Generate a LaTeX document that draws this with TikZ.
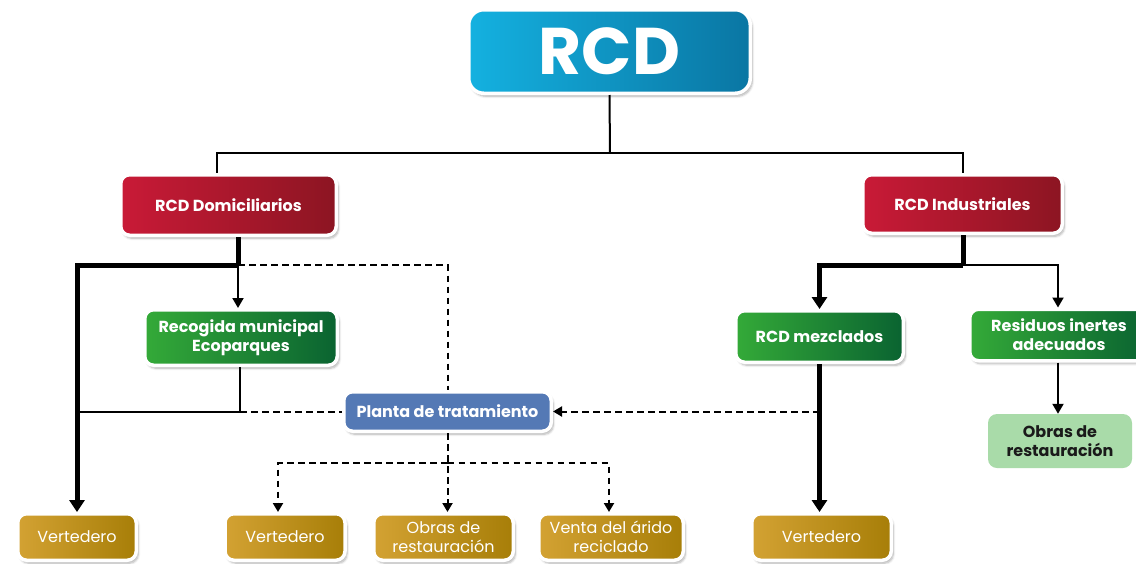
\documentclass[tikz,border=0pt]{standalone}
\usepackage{fontspec}
\setmainfont{Poppins}
\usetikzlibrary{arrows.meta,shadows.blur}
\definecolor{bluel}{HTML}{14B1E0}
\definecolor{bluer}{HTML}{0A76A3}
\definecolor{redl}{HTML}{C91A37}
\definecolor{redr}{HTML}{8C1522}
\definecolor{greenl}{HTML}{34AA38}
\definecolor{greenr}{HTML}{0A6331}
\definecolor{goldl}{HTML}{D3A233}
\definecolor{goldr}{HTML}{A77E08}
\definecolor{plantac}{HTML}{5479B5}
\definecolor{lgreen}{HTML}{A9DBA9}
\definecolor{darktext}{HTML}{1A1A1A}
\tikzset{
  boxbase/.style={rounded corners=9pt, draw=white, line width=3.5pt, text=white, align=center, inner sep=0pt,
    blur shadow={shadow blur steps=6, shadow xshift=2pt, shadow yshift=-3pt, shadow opacity=30}},
  topbox/.style={boxbase, rounded corners=15pt, left color=bluel, right color=bluer, font=\fontsize{66}{66}\selectfont\bfseries},
  redbox/.style={boxbase, left color=redl, right color=redr, font=\fontsize{16}{19}\selectfont\bfseries},
  greenbox/.style={boxbase, left color=greenl, right color=greenr, font=\fontsize{16}{19}\selectfont\bfseries},
  goldbox/.style={boxbase, left color=goldl, right color=goldr, font=\fontsize{16}{19}\selectfont,
    minimum width=120pt, minimum height=46.5pt},
  plantabox/.style={boxbase, fill=plantac, font=\fontsize{16}{19}\selectfont\bfseries},
  lgbox/.style={rounded corners=9pt, fill=lgreen, text=darktext, align=center, inner sep=0pt,
    font=\fontsize{16}{19}\selectfont\bfseries},
  thinline/.style={line width=2pt, line join=miter},
  thickline/.style={line width=5pt, line join=miter},
  dashline/.style={line width=2pt, dash pattern=on 6.5pt off 4.5pt},
  thinarrow/.style={thinline, -{Triangle[width=11pt,length=10pt]}},
  thickarrow/.style={thickline, -{Triangle[width=15pt,length=12pt]}},
  dasharrow/.style={dashline, -{Triangle[width=10pt,length=9pt]}},
}
\begin{document}
\begin{tikzpicture}[x=1pt,y=-1pt]
\useasboundingbox (0,0) rectangle (1136,563);
% nodes
\node[topbox, minimum width=281.5pt, minimum height=83.5pt] (rcd) at (609.5,51.5) {RCD};
\node[redbox, minimum width=215.5pt, minimum height=60.5pt] (dom) at (228.5,205) {RCD Domiciliarios};
\node[redbox, minimum width=199.5pt, minimum height=58.5pt] (ind) at (962.5,204) {RCD Industriales};
\node[greenbox, minimum width=192.5pt, minimum height=55.5pt] (rec) at (241,337.5) {Recogida municipal\\Ecoparques};
\node[greenbox, minimum width=167.5pt, minimum height=51.5pt] (mez) at (819.5,336.5) {RCD mezclados};
\node[greenbox, minimum width=178.5pt, minimum height=51.5pt] (res) at (1059,335) {Residuos inertes\\adecuados};
\node[lgbox, minimum width=144pt, minimum height=54pt] (obr) at (1060,441) {Obras de\\restauración};
\node[plantabox, minimum width=207.5pt, minimum height=39.5pt] (pla) at (447.5,411.5) {Planta de tratamiento};
\node[goldbox, minimum width=118.5pt] (v1) at (77,537) {Vertedero};
\node[goldbox] (v2) at (285,537) {Vertedero};
\node[goldbox, minimum width=139.5pt] (ob1) at (443.5,537) {Obras de\\restauración};
\node[goldbox, minimum width=144.5pt] (ven) at (611,537) {Venta del árido\\reciclado};
\node[goldbox, minimum width=139.5pt] (vr) at (821.5,537) {Vertedero};
% junctions
\coordinate (jt) at (610,153);
\coordinate (jd) at (238,265);
\coordinate (jr) at (240,411.5);
\coordinate (ji) at (963,265);
\coordinate (jp) at (447.5,463);
% top tree
\draw[thinline] (rcd.south) -- (jt);
\draw[thinline] (jt) -| ([xshift=-11.5pt]dom.north);
\draw[thinline] (jt) -| (ind.north);
% domiciliarios
\draw[thickline] (dom.south -| jd) -- (jd);
\draw[thickarrow] (jd) -| (v1.north);
\draw[thinarrow] (jd) -- (rec.north -| jd);
\draw[dashline] (jd) -| (pla.north);
\draw[thinline] (rec.south -| jr) -- (jr) -- (jr -| v1.north);
\draw[dashline] (jr) -- (pla.west);
% industriales
\draw[thickline] (ind.south -| ji) -- (ji);
\draw[thickarrow] (ji) -| (mez.north);
\draw[thinarrow] (ji) -| ([xshift=-1pt]res.north);
\draw[thinarrow] ([xshift=-1pt]res.south) -- ([xshift=-1pt]res.south |- obr.north);
\draw[thickarrow] (mez.south) -- (mez.south |- vr.north);
\draw[dasharrow] (mez.south |- pla.east) -- (pla.east);
% planta
\draw[dasharrow] (pla.south) -- (pla.south |- ob1.north);
\draw[dasharrow] (jp) -| ([xshift=-7pt]v2.north);
\draw[dasharrow] (jp) -| ([xshift=-2pt]ven.north);
\end{tikzpicture}
\end{document}
